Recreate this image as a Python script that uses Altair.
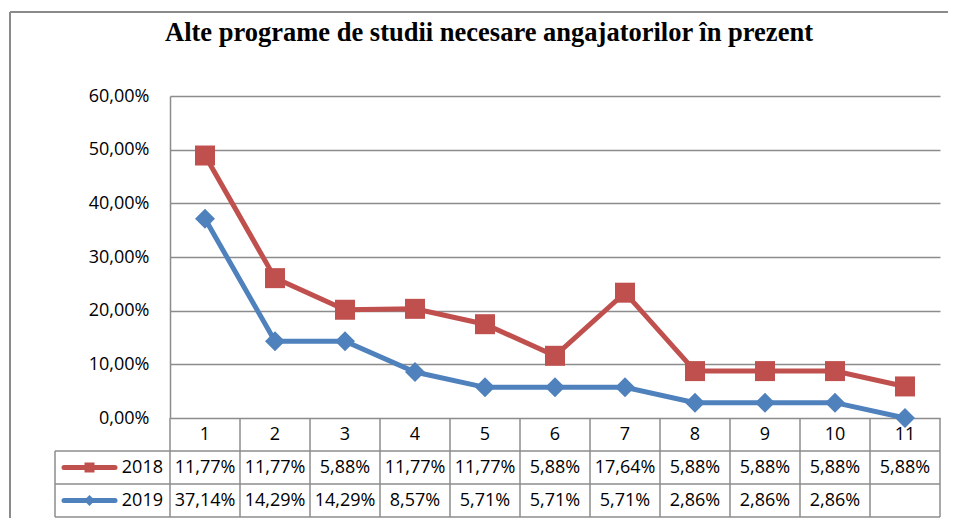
import altair as alt
import pandas as pd

# ---- data ----
categories = list(range(1, 12))
series_names = ["2018", "2019"]
values_2018 = [11.77, 11.77, 5.88, 11.77, 11.77, 5.88, 17.64, 5.88, 5.88, 5.88, 5.88]
values_2019 = [37.14, 14.29, 14.29, 8.57, 5.71, 5.71, 5.71, 2.86, 2.86, 2.86, None]
y_ticks = [0, 10, 20, 30, 40, 50, 60]
title_text = "Alte programe de studii necesare angajatorilor în prezent"
colors = ["#C0504D", "#4F81BD"]
shapes = ["square", "diamond"]

GRID = "#8c8c8c"
FONT = "Open Sans"
FS = 18


def pct(v):
    return "" if v is None else f"{v:.2f}".replace(".", ",") + "%"


rows = []
for i, c in enumerate(categories):
    rows.append({"cat": c, "series": "2018", "value": values_2018[i], "order": 1})
    rows.append({"cat": c, "series": "2019", "value": values_2019[i] if values_2019[i] is not None else 0.0, "order": 0})
long_df = pd.DataFrame(rows)

table_df = pd.DataFrame({
    "cat": categories,
    "label": [str(c) for c in categories],
    "t2018": [pct(v) for v in values_2018],
    "t2019": [pct(v) for v in values_2019],
})
bounds_df = pd.DataFrame({"b": [c - 0.5 for c in categories] + [categories[-1] + 0.5]})
one = pd.DataFrame({"k": [0]})

W, H = 770, 322
PAD = {"left": 162, "top": 88, "right": 8, "bottom": 100}
xs = alt.Scale(domain=[0.5, 11.5], nice=False, zero=False)
ys = alt.Scale(domain=[0, 60], nice=False)
yaxis = alt.Axis(
    values=y_ticks, grid=True, gridColor=GRID, gridWidth=1.5,
    domain=True, domainColor=GRID, domainWidth=1.5, ticks=False, tickSize=0,
    labelExpr="replace(format(datum.value, '.2f'), '.', ',') + '%'",
    labelFont=FONT, labelFontSize=FS, labelColor="#000000", labelPadding=21,
    title=None,
)

# y positions (pixels, relative to plot top) of the table rows
HDR_Y, R1_Y, R2_Y = 338.5, 371.5, 404.5
LINE_Y = [355, 388, 421]
LEFT_X = -115

# outer frame: top and left edges only (the others run off the picture)
border_top = alt.Chart(one).mark_rule(color="#8a8a8a", strokeWidth=2).encode(
    x=alt.value(-160), x2=alt.value(W + PAD["right"]), y=alt.value(-84)
)
border_left = alt.Chart(one).mark_rule(color="#8a8a8a", strokeWidth=2).encode(
    x=alt.value(-160), y=alt.value(-84), y2=alt.value(H + PAD["bottom"])
)

title = alt.Chart(one).mark_text(
    font="Liberation Serif", fontWeight="bold", fontSize=26.5, align="center",
    baseline="alphabetic", color="#000000"
).encode(x=alt.value(319), y=alt.value(-55), text=alt.value(title_text))

base = alt.Chart(long_df).transform_stack(
    stack="value", groupby=["cat"], as_=["v0", "v1"],
    sort=[alt.SortField("order", order="ascending")],
)
color_enc = alt.Color("series:N", scale=alt.Scale(domain=series_names, range=colors), legend=None)

lines = base.mark_line(strokeWidth=5).encode(
    x=alt.X("cat:Q", scale=xs, axis=None),
    y=alt.Y("v1:Q", scale=ys, axis=yaxis),
    color=color_enc,
)
points = base.mark_point(filled=True, size=400, opacity=1).encode(
    x=alt.X("cat:Q", scale=xs, axis=None),
    y=alt.Y("v1:Q", scale=ys, axis=yaxis),
    color=color_enc,
    shape=alt.Shape("series:N", scale=alt.Scale(domain=series_names, range=shapes), legend=None),
)

vrules = alt.Chart(bounds_df).mark_rule(color=GRID, strokeWidth=1.5).encode(
    x=alt.X("b:Q", scale=xs, axis=None), y=alt.value(H), y2=alt.value(LINE_Y[-1])
)
hrules = [
    alt.Chart(one).mark_rule(color=GRID, strokeWidth=1.5).encode(
        x=alt.value(LEFT_X), x2=alt.value(W), y=alt.value(yy)
    )
    for yy in LINE_Y
]
left_rule = alt.Chart(one).mark_rule(color=GRID, strokeWidth=1.5).encode(
    x=alt.value(LEFT_X), y=alt.value(LINE_Y[0]), y2=alt.value(LINE_Y[-1])
)


def table_text(field, ypix):
    return alt.Chart(table_df).mark_text(font=FONT, fontSize=FS, color="#000000").encode(
        x=alt.X("cat:Q", scale=xs, axis=None), y=alt.value(ypix), text=f"{field}:N"
    )


hdr = table_text("label", HDR_Y)
row1 = table_text("t2018", R1_Y)
row2 = table_text("t2019", R2_Y)

legend_layers = []
for name, col, shp, yy, sz in [("2018", colors[0], shapes[0], R1_Y, 100), ("2019", colors[1], shapes[1], R2_Y, 120)]:
    legend_layers.append(alt.Chart(one).mark_rule(color=col, strokeWidth=5, strokeCap="round").encode(
        x=alt.value(-106), x2=alt.value(-55), y=alt.value(yy)))
    legend_layers.append(alt.Chart(one).mark_point(shape=shp, filled=True, size=sz, color=col, opacity=1).encode(
        x=alt.value(-80.5), y=alt.value(yy)))
    legend_layers.append(alt.Chart(one).mark_text(font=FONT, fontSize=FS, align="right", color="#000000").encode(
        x=alt.value(-7), y=alt.value(yy), text=alt.value(name)))

chart = alt.layer(
    border_top, border_left, title, vrules, *hrules, left_rule, hdr, row1, row2,
    *legend_layers, lines, points
).properties(
    width=W, height=H,
    padding=PAD,
    autosize=alt.AutoSizeParams(type="none"),
    background="#ffffff",
).configure_view(stroke=None)

chart.save("out.html", embed_options={"renderer": "svg", "actions": False})
